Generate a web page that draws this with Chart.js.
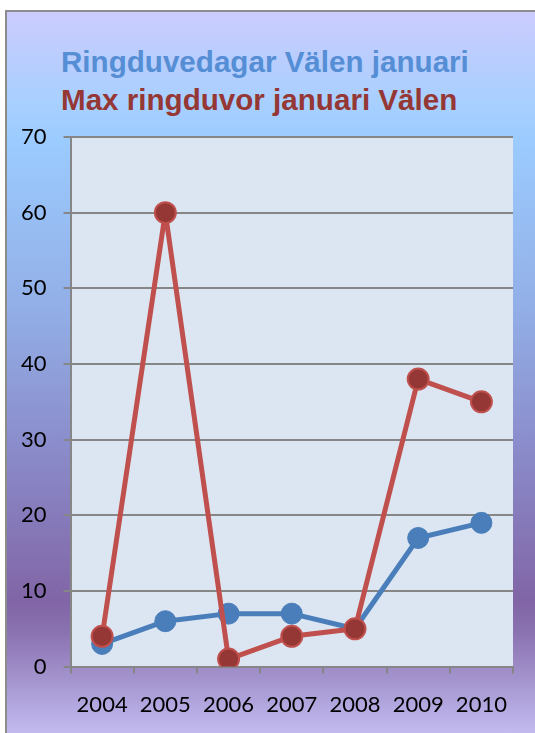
<!DOCTYPE html>
<html>
<head>
<meta charset="utf-8">
<script src="https://cdn.jsdelivr.net/npm/chart.js@4.4.1/dist/chart.umd.min.js"></script>
<style>
  html, body { margin: 0; padding: 0; background: #ffffff; }
  body { width: 535px; height: 733px; position: relative; overflow: hidden; }
  .frame {
    position: absolute; left: 5px; top: 10px; width: 540px; height: 730px;
    border: 2px solid #8c8c8c;
    background: linear-gradient(to bottom, #cbcbfd 0px, #a8d0ff 90px, #9bcbff 130px, #92aee6 300px, #8b8dcc 430px, #8165a6 590px, #8a72b0 620px, #ab9dd6 680px, #c8c2f6 730px);
  }
  .title { position: absolute; left: 61px; font-family: "Liberation Sans", Arial, sans-serif; font-weight: bold; font-size: 29.6px; white-space: nowrap; }
  #t1 { top: 45px; color: #558ed5; }
  #t2 { top: 83px; color: #953735; }
  #wrap { position: absolute; left: 0; top: 0; width: 535px; height: 736px; }
</style>
</head>
<body>
<div class="frame"></div>
<div class="title" id="t1">Ringduvedagar Välen januari</div>
<div class="title" id="t2">Max ringduvor januari Välen</div>
<div id="wrap"><canvas id="myChart"></canvas></div>
<script>
  const years = ["2004", "2005", "2006", "2007", "2008", "2009", "2010"];
  const ringduvedagar = [3, 6, 7, 7, 5, 17, 19];
  const maxRingduvor = [4, 60, 1, 4, 5, 38, 35];

  const plotBackground = {
    id: "plotBackground",
    beforeDraw(chart) {
      const { ctx, chartArea } = chart;
      ctx.save();
      ctx.fillStyle = "#dce6f2";
      ctx.fillRect(chartArea.left, chartArea.top, chartArea.right - chartArea.left, chartArea.bottom - chartArea.top);
      ctx.restore();
    }
  };

  function initChart(targetElement) {
    const data = {
      labels: years,
      datasets: [
        {
          label: "Ringduvedagar Välen januari",
          data: ringduvedagar,
          order: 1,
          borderColor: "#4a7ebb",
          backgroundColor: "#4a7ebb",
          pointBackgroundColor: "#4a7ebb",
          pointBorderColor: "#4a7ebb",
          borderWidth: 5,
          borderJoinStyle: "round",
          pointRadius: 10.5,
          pointBorderWidth: 1
        },
        {
          label: "Max ringduvor januari Välen",
          data: maxRingduvor,
          order: 0,
          borderColor: "#c0504d",
          backgroundColor: "#953735",
          pointBackgroundColor: "#953735",
          pointBorderColor: "#c0504d",
          borderWidth: 5,
          borderJoinStyle: "round",
          pointRadius: 10.5,
          pointBorderWidth: 2
        }
      ]
    };

    const config = {
      type: "line",
      data: data,
      plugins: [plotBackground],
      options: {
        responsive: true,
        maintainAspectRatio: false,
        animation: false,
        layout: { padding: { left: 4, right: 22, top: 137, bottom: 0 } },
        plugins: {
          legend: { display: false },
          title: { display: false },
          tooltip: { enabled: false }
        },
        scales: {
          x: {
            offset: true,
            grid: { drawOnChartArea: false, drawTicks: true, tickLength: 7, color: "#868686", lineWidth: 2, offset: true },
            border: { color: "#868686", width: 2 },
            ticks: { color: "#000000", font: { family: "Lato", size: 22 }, padding: 18, maxRotation: 0 }
          },
          y: {
            min: 0,
            max: 70,
            grid: { color: "#868686", lineWidth: 2, tickLength: 7 },
            border: { color: "#868686", width: 2 },
            ticks: { stepSize: 10, color: "#000000", font: { family: "Lato", size: 22 }, padding: 17 }
          }
        }
      }
    };

    return new Chart(targetElement, config);
  }

  document.addEventListener("DOMContentLoaded", () => {
    initChart(document.querySelector("#myChart"));
  });
</script>
</body>
</html>
